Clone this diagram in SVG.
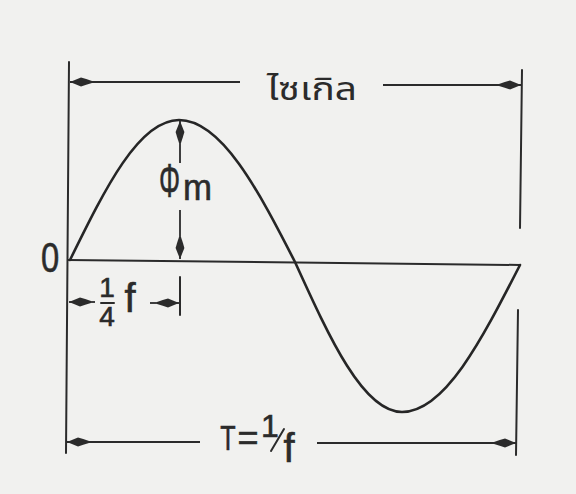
<svg xmlns="http://www.w3.org/2000/svg" width="576" height="494" viewBox="0 0 576 494">
  <style>
    .ln { stroke: #2b2b2b; stroke-width: 2; fill: none; stroke-linecap: round; }
    .wave { stroke: #262626; stroke-width: 2.6; fill: none; stroke-linecap: round; }
    .dim { stroke: #2b2b2b; stroke-width: 1.8; fill: none; marker-end: url(#ah); }
    .t { fill: #2b2b2b; stroke: #2b2b2b; stroke-width: 0.6; font-family: "Liberation Sans", Arial, sans-serif; }
    .th { fill: #2b2b2b; font-family: "Noto Sans Thai", "Noto Sans", sans-serif; font-weight: 400; }
  </style>
  <defs>
    <marker id="ah" markerUnits="userSpaceOnUse" markerWidth="24" markerHeight="12" refX="22" refY="6" orient="auto" viewBox="0 0 24 12">
      <path d="M22,6 L11,1.6 Q6,3 0,5 L0,7 Q6,9 11,10.4 Z" fill="#2b2b2b"/>
    </marker>
  </defs>
  <rect width="576" height="494" fill="#f1f1ef"/>

  <g id="frame">
    <line class="ln" x1="69" y1="62" x2="66" y2="453"/>
    <line class="ln" x1="522" y1="70" x2="520" y2="228"/>
    <line class="ln" x1="518" y1="310" x2="516" y2="455"/>
    <line class="ln" x1="180" y1="277" x2="180" y2="315"/>
  </g>

  <g id="axis">
    <line class="ln" x1="68" y1="260" x2="520" y2="265"/>
    <text class="t" x="50" y="272" font-size="42" text-anchor="middle" stroke-width="0.3" transform="translate(50 0) scale(0.78 1) translate(-50 0)">0</text>
  </g>

  <g id="waveform">
    <path class="wave" d="M70,260 C105.2,188.3 138.9,120 179,120 C221.3,120 257.8,189.3 295,262 C329.9,338.8 363.3,412 402,412 C444.7,412 481.5,340.3 520,265"/>
  </g>

  <g id="connectors">
    <line class="dim" x1="240" y1="82" x2="70" y2="82"/>
    <line class="dim" x1="383" y1="85" x2="521" y2="85"/>
    <line class="dim" x1="200" y1="442" x2="67" y2="442"/>
    <line class="dim" x1="317" y1="443" x2="516" y2="443"/>
    <line class="dim" x1="95" y1="302" x2="69" y2="302"/>
    <line class="dim" x1="150" y1="303" x2="179" y2="303"/>
    <line class="dim" x1="180" y1="163" x2="180" y2="121"/>
    <line class="dim" x1="180" y1="210" x2="180" y2="259"/>
  </g>

  <g id="label-cycle">
    <text class="th" x="267" y="100" font-size="32" textLength="90" lengthAdjust="spacingAndGlyphs">ไซเกิล</text>
  </g>

  <g id="label-phim">
    <text class="t" x="169.5" y="197" font-size="48" text-anchor="middle" transform="translate(169.5 0) scale(0.55 1) translate(-169.5 0)">Φ</text>
    <text class="t" x="183" y="200" font-size="36" textLength="29" lengthAdjust="spacingAndGlyphs">m</text>
  </g>

  <g id="label-quarter">
    <text class="t" x="107" y="297" font-size="28" text-anchor="middle">1</text>
    <line class="ln" x1="101" y1="303" x2="114" y2="303" stroke-width="2.2"/>
    <text class="t" x="107" y="326" font-size="28" text-anchor="middle">4</text>
    <text class="t" x="130" y="312" font-size="40" text-anchor="middle" stroke-width="1">f</text>
  </g>

  <g id="label-period">
    <text class="t" x="228" y="450" font-size="36" text-anchor="middle" transform="translate(228 0) scale(0.7 1) translate(-228 0)">T</text>
    <text class="t" x="248" y="450" font-size="36" text-anchor="middle">=</text>
    <text class="t" x="270" y="437" font-size="32" text-anchor="middle">1</text>
    <line class="ln" x1="271" y1="451" x2="284" y2="429" stroke-width="2.2"/>
    <text class="t" x="289" y="462" font-size="40" text-anchor="middle" stroke-width="1">f</text>
  </g>
</svg>
